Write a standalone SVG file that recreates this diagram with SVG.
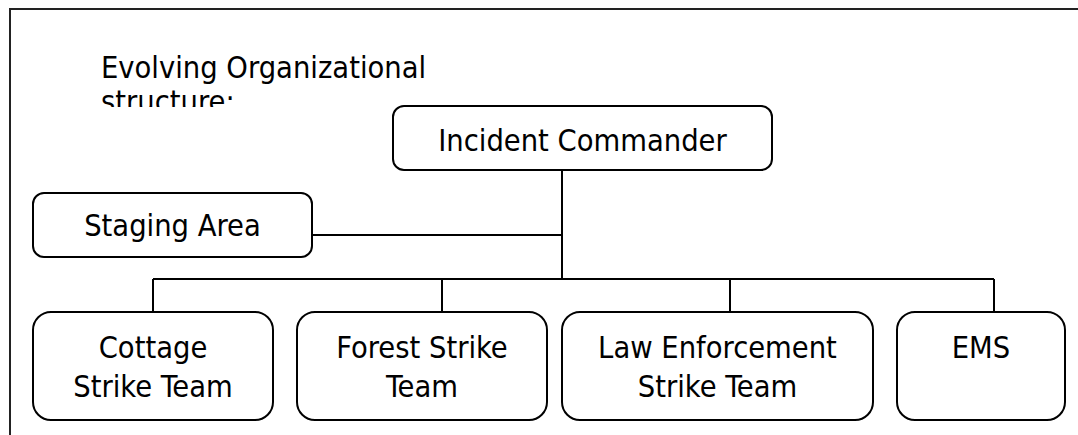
<svg xmlns="http://www.w3.org/2000/svg" width="1078" height="435" viewBox="0 0 1078 435">
  <style>
    .box { fill: #fff; stroke: #000; stroke-width: 2; }
    .lbl { font-family: "DejaVu Sans Condensed", "DejaVu Sans", sans-serif; font-stretch: condensed; font-size: 30.5px; fill: #000; text-anchor: middle; }
    .ttl { font-family: "DejaVu Sans Condensed", "DejaVu Sans", sans-serif; font-stretch: condensed; font-size: 30.5px; fill: #000; }
    .wire { fill: none; stroke: #000; stroke-width: 2; }
    .frame { fill: none; stroke: #222; stroke-width: 2; }
  </style>
  <defs>
    <clipPath id="titleClip">
      <rect x="0" y="0" width="600" height="107"/>
    </clipPath>
  </defs>

  <rect width="1078" height="435" fill="#fff"/>

  <!-- page frame (top and left edges) -->
  <path class="frame" d="M10 436 V9 H1079"/>

  <!-- heading, clipped at the bottom of its text box -->
  <g id="title" clip-path="url(#titleClip)">
    <text class="ttl" x="101" y="78">Evolving Organizational</text>
    <text class="ttl" x="101" y="112">structure:</text>
  </g>

  <!-- connectors -->
  <g id="connectors">
    <path class="wire" d="M562 170 V279"/>
    <path class="wire" d="M312 235 H562"/>
    <path class="wire" d="M153 279 H994"/>
    <path class="wire" d="M153 279 V312"/>
    <path class="wire" d="M442 279 V312"/>
    <path class="wire" d="M730 279 V312"/>
    <path class="wire" d="M994 279 V312"/>
  </g>

  <g id="incident-commander">
    <rect class="box" x="393" y="106" width="379" height="64" rx="11" ry="11"/>
    <text class="lbl" x="582.5" y="151">Incident Commander</text>
  </g>

  <g id="staging-area">
    <rect class="box" x="33" y="193" width="279" height="64" rx="11" ry="11"/>
    <text class="lbl" x="172.5" y="236">Staging Area</text>
  </g>

  <g id="cottage-strike-team">
    <rect class="box" x="33" y="312" width="240" height="108" rx="18" ry="18"/>
    <text class="lbl" x="153" y="358">Cottage</text>
    <text class="lbl" x="153" y="397">Strike Team</text>
  </g>

  <g id="forest-strike-team">
    <rect class="box" x="297" y="312" width="250" height="108" rx="18" ry="18"/>
    <text class="lbl" x="422" y="358">Forest Strike</text>
    <text class="lbl" x="422" y="397">Team</text>
  </g>

  <g id="law-enforcement-strike-team">
    <rect class="box" x="562" y="312" width="311" height="108" rx="18" ry="18"/>
    <text class="lbl" x="717.5" y="358">Law Enforcement</text>
    <text class="lbl" x="717.5" y="397">Strike Team</text>
  </g>

  <g id="ems">
    <rect class="box" x="897" y="312" width="168" height="108" rx="18" ry="18"/>
    <text class="lbl" x="981" y="358">EMS</text>
  </g>
</svg>
